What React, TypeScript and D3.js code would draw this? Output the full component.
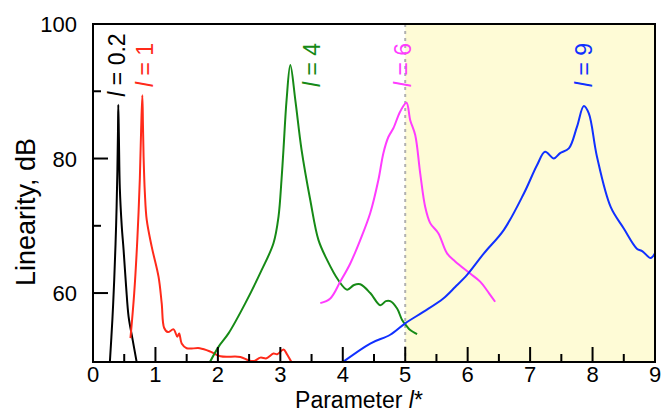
import React from 'react';
import * as d3 from 'd3';

// [l*, dB]
const curveL02: [number, number][] = [
  [0.27, 49.7], [0.31, 56], [0.34, 62], [0.37, 70], [0.39, 78], [0.4, 84], [0.405, 88],
  [0.415, 83], [0.43, 75.5], [0.46, 70], [0.49, 66.4], [0.53, 61], [0.57, 56.5],
  [0.63, 53.3], [0.7, 49.7],
];
const curveL1: [number, number][] = [
  [0.6, 53.3], [0.66, 60], [0.71, 68], [0.75, 77], [0.77, 84], [0.79, 89.4], [0.8, 85],
  [0.81, 80.3], [0.83, 75], [0.86, 70.9], [0.94, 66.9], [1.05, 62.4], [1.1, 58.5],
  [1.14, 54.8], [1.2, 54.2], [1.29, 54.6], [1.35, 53.5], [1.38, 54], [1.42, 52.5],
  [1.5, 51.8], [1.71, 51.8], [1.88, 51.3], [2.04, 50.6], [2.36, 50.5], [2.49, 50],
  [2.58, 49.9], [2.68, 50.4], [2.78, 50.3], [2.89, 51], [2.95, 50.9], [3.05, 51.6],
  [3.1, 51], [3.18, 49.7],
];
const curveL4: [number, number][] = [
  [1.87, 49.7], [2.01, 52], [2.17, 54], [2.44, 58.5], [2.7, 63.4], [2.89, 67.4],
  [2.97, 71.3], [3.02, 77], [3.05, 81.3], [3.1, 88.7], [3.16, 93.9], [3.24, 88.7],
  [3.34, 81.3], [3.48, 73.8], [3.61, 67.9], [3.75, 64.9], [3.93, 61.9], [4.07, 60.5],
  [4.18, 61.2], [4.28, 61.3], [4.44, 60], [4.6, 58.2], [4.69, 58.8], [4.76, 58.8],
  [4.87, 57.7], [4.95, 56], [5.03, 55], [5.08, 54.5], [5.19, 53.9],
];
const curveL6: [number, number][] = [
  [3.64, 58.5], [3.8, 59.2], [3.96, 61.7], [4.12, 64.4], [4.28, 67.9], [4.44, 71.9],
  [4.57, 76.8], [4.65, 80.8], [4.73, 83.2], [4.81, 84.5], [4.92, 87], [5.02, 88.3],
  [5.08, 85.7], [5.16, 83.5], [5.24, 77.8], [5.32, 72.8], [5.4, 70.4], [5.53, 68.9],
  [5.67, 65.9], [5.8, 64.7], [6.04, 62.9], [6.2, 61.7], [6.34, 60], [6.44, 58.7],
];
const curveL9: [number, number][] = [
  [4.01, 49.8], [4.44, 52.5], [4.76, 53.8], [5.0, 55.5], [5.29, 57.2], [5.61, 59.2],
  [5.8, 60.9], [5.99, 62.7], [6.26, 65.9], [6.58, 69.4], [6.9, 74.8], [7.11, 79],
  [7.24, 81], [7.38, 80], [7.48, 80.8], [7.62, 81.5], [7.75, 84.7], [7.86, 87.8],
  [7.94, 86.7], [8.07, 80.3], [8.29, 72.8], [8.5, 69.6], [8.71, 66.6], [8.8, 66.2],
  [8.93, 65.2], [9.0, 65.9],
];

const series = [
  { name: '0.2', data: curveL02, color: '#000000', labelX: 0.39 },
  { name: '1', data: curveL1, color: '#ff2a1a', labelX: 0.83 },
  { name: '4', data: curveL4, color: '#168a16', labelX: 3.5 },
  { name: '6', data: curveL6, color: '#ff3cff', labelX: 4.97 },
  { name: '9', data: curveL9, color: '#1030ff', labelX: 7.87 },
];

const xMajor = [0, 1, 2, 3, 4, 5, 6, 7, 8, 9];
const xMinor = [0.5, 1.5, 2.5, 3.5, 4.5, 5.5, 6.5, 7.5, 8.5];
const yMajor = [60, 80, 100];
const yMinor = [70, 90];
const shadeFrom = 5;

const W = 667;
const H = 413;

export default function App() {
  const x = d3.scaleLinear().domain([0, 9]).range([93, 655]);
  const y = d3.scaleLinear().domain([49.75, 100]).range([362, 24]);
  const line = d3.line<[number, number]>()
    .x(d => x(d[0]))
    .y(d => y(d[1]))
    .curve(d3.curveCatmullRom.alpha(0.5));

  const [x0, x1] = x.range();
  const [yb, yt] = y.range();
  const font = 'Arial, "Liberation Sans", sans-serif';

  return (
    <svg width={W} height={H} style={{ position: 'absolute', left: 0, top: 0 }} fontFamily={font}>
      <defs>
        <clipPath id="plot">
          <rect x={x0} y={yt} width={x1 - x0} height={yb - yt} />
        </clipPath>
      </defs>
      <rect x={x(shadeFrom)} y={yt} width={x1 - x(shadeFrom)} height={yb - yt} fill="#fefbd6" />
      <line x1={x(shadeFrom)} x2={x(shadeFrom)} y1={yt} y2={yb} stroke="#b0b0b0" strokeWidth={2} strokeDasharray="3,4" />

      <g clipPath="url(#plot)">
        {series.map(s => (
          <path key={s.name} d={line(s.data) ?? ''} fill="none" stroke={s.color} strokeWidth={2} strokeLinejoin="round" />
        ))}
      </g>

      {series.map(s => (
        <text key={s.name} transform={`translate(${x(s.labelX) + 8},65) rotate(-90)`}
          textAnchor="middle" fontSize={23} fill={s.color}>
          <tspan fontStyle="italic">l</tspan> = {s.name}
        </text>
      ))}

      {/* ticks point inward */}
      {xMajor.map(t => <line key={'xM' + t} x1={x(t)} x2={x(t)} y1={yb} y2={yb - 15} stroke="#000" strokeWidth={2} />)}
      {xMinor.map(t => <line key={'xm' + t} x1={x(t)} x2={x(t)} y1={yb} y2={yb - 8} stroke="#000" strokeWidth={2} />)}
      {yMajor.map(t => <line key={'yM' + t} x1={x0} x2={x0 + 15} y1={y(t)} y2={y(t)} stroke="#000" strokeWidth={2} />)}
      {yMinor.map(t => <line key={'ym' + t} x1={x0} x2={x0 + 8} y1={y(t)} y2={y(t)} stroke="#000" strokeWidth={2} />)}

      <rect x={x0} y={yt} width={x1 - x0} height={yb - yt} fill="none" stroke="#000" strokeWidth={2} />

      {xMajor.map(t => (
        <text key={'xl' + t} x={x(t)} y={382} textAnchor="middle" fontSize={22}>{t}</text>
      ))}
      {yMajor.map(t => (
        <text key={'yl' + t} x={77} y={y(t) + 8} textAnchor="end" fontSize={22}>{t}</text>
      ))}

      <text x={359} y={408} textAnchor="middle" fontSize={23}>
        Parameter <tspan fontStyle="italic">l</tspan>*
      </text>
      <text transform="translate(35,212) rotate(-90)" textAnchor="middle" fontSize={27}>Linearity, dB</text>
    </svg>
  );
}
